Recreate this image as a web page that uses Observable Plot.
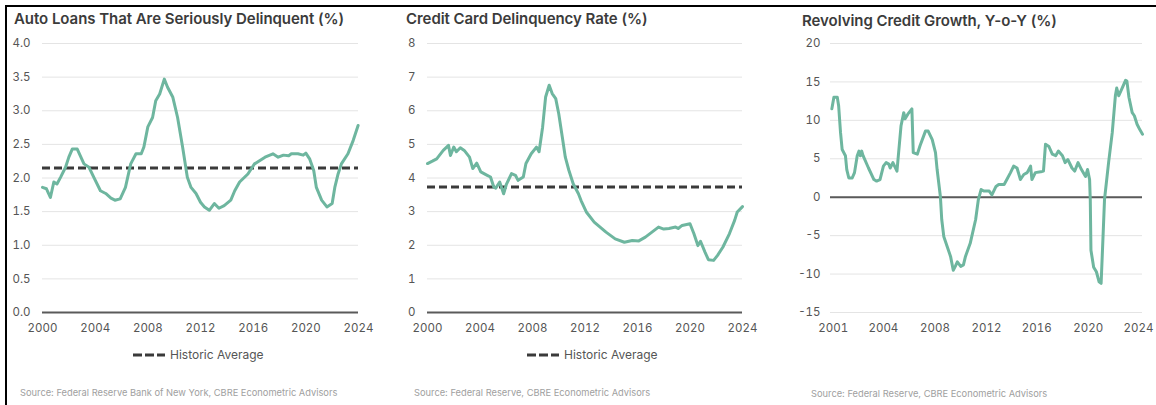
<!DOCTYPE html>
<html>
<head>
<meta charset="utf-8">
<script src="https://cdn.jsdelivr.net/npm/d3@7"></script>
<script src="https://cdn.jsdelivr.net/npm/@observablehq/plot@0.6"></script>
<style>
  html, body { margin: 0; padding: 0; background: #fff; }
  body { width: 1156px; height: 405px; position: relative; overflow: hidden; font-family: Inter, "Open Sans", sans-serif; }
  .frame { position: absolute; left: 5px; top: 5px; width: 1160px; height: 410px; border-top: 2px solid #000; border-left: 2px solid #000; }
  .title { position: absolute; font-size: 15px; font-weight: 600; color: #3b3b3b; line-height: 18px; white-space: nowrap; letter-spacing: -0.05px; }
  .chart { position: absolute; }
  .legend { position: absolute; font-size: 12px; color: #555; line-height: 14px; white-space: nowrap; display: flex; align-items: center; }
  .legend svg { margin-right: 5px; }
  .source { position: absolute; font-size: 9.3px; color: #a0a0a0; line-height: 11px; white-space: nowrap; }
</style>
</head>
<body>
<div class="frame"></div>
<div class="title" style="left:14px; top:10px;">Auto Loans That Are Seriously Delinquent (%)</div>
<div class="title" style="left:406px; top:10px;">Credit Card Delinquency Rate (%)</div>
<div class="title" style="left:802px; top:12px;">Revolving Credit Growth, Y-o-Y (%)</div>
<div id="c1" class="chart" style="left:0px; top:30px;"></div>
<div id="c2" class="chart" style="left:390px; top:30px;"></div>
<div id="c3" class="chart" style="left:780px; top:30px;"></div>
<div class="legend" style="left:133px; top:348px;"><svg width="32" height="6"><line x1="0" y1="3" x2="32" y2="3" stroke="#3a3a3a" stroke-width="3" stroke-dasharray="9,3"/></svg>Historic Average</div>
<div class="legend" style="left:527px; top:348px;"><svg width="32" height="6"><line x1="0" y1="3" x2="32" y2="3" stroke="#3a3a3a" stroke-width="3" stroke-dasharray="9,3"/></svg>Historic Average</div>
<div class="source" style="left:20px; top:387px;">Source: Federal Reserve Bank of New York, CBRE Econometric Advisors</div>
<div class="source" style="left:414px; top:387px;">Source: Federal Reserve, CBRE Econometric Advisors</div>
<div class="source" style="left:811px; top:388px;">Source: Federal Reserve, CBRE Econometric Advisors</div>
<script>
// ---------- Auto loans seriously delinquent (%) ----------
const autoYears = [2000.0, 2000.3, 2000.6, 2000.86, 2001.1, 2001.37, 2001.75, 2002.0, 2002.26, 2002.64, 2003.15, 2003.53, 2003.9, 2004.4, 2004.8, 2005.2, 2005.5, 2005.9, 2006.3, 2006.7, 2007.1, 2007.5, 2007.7, 2008.0, 2008.36, 2008.6, 2008.9, 2009.25, 2009.5, 2009.9, 2010.26, 2010.64, 2011.0, 2011.28, 2011.66, 2012.0, 2012.3, 2012.67, 2013.05, 2013.4, 2013.8, 2014.3, 2014.6, 2014.97, 2015.6, 2016.1, 2016.9, 2017.5, 2017.9, 2018.3, 2018.7, 2018.9, 2019.4, 2019.8, 2020.0, 2020.3, 2020.6, 2020.8, 2021.2, 2021.6, 2022.0, 2022.2, 2022.45, 2022.7, 2023.2, 2023.6, 2023.97];
const autoValues = [1.86, 1.84, 1.71, 1.94, 1.91, 2.01, 2.16, 2.31, 2.43, 2.43, 2.21, 2.16, 2.01, 1.81, 1.77, 1.70, 1.67, 1.69, 1.86, 2.21, 2.36, 2.36, 2.46, 2.76, 2.90, 3.15, 3.25, 3.47, 3.35, 3.20, 2.90, 2.46, 2.01, 1.86, 1.77, 1.64, 1.57, 1.52, 1.62, 1.55, 1.59, 1.67, 1.81, 1.94, 2.06, 2.21, 2.31, 2.36, 2.31, 2.34, 2.33, 2.36, 2.36, 2.34, 2.37, 2.28, 2.11, 1.86, 1.67, 1.57, 1.62, 1.86, 2.06, 2.21, 2.36, 2.56, 2.78];
const autoAverage = 2.15;
const autoXTicks = [2000, 2004, 2008, 2012, 2016, 2020, 2024];
const autoYTicks = [0, 0.5, 1.0, 1.5, 2.0, 2.5, 3.0, 3.5, 4.0];

// ---------- Credit card delinquency rate (%) ----------
const ccYears = [2000.0, 2000.37, 2000.7, 2001.2, 2001.6, 2001.75, 2002.0, 2002.2, 2002.5, 2002.8, 2003.2, 2003.45, 2003.75, 2004.06, 2004.55, 2004.8, 2005.05, 2005.2, 2005.5, 2005.8, 2006.0, 2006.4, 2006.7, 2006.9, 2007.3, 2007.5, 2007.9, 2008.3, 2008.5, 2008.77, 2009.0, 2009.27, 2009.5, 2009.77, 2010.0, 2010.27, 2010.5, 2010.77, 2011.1, 2011.5, 2011.7, 2012.1, 2012.7, 2013.6, 2014.3, 2015.0, 2015.6, 2016.1, 2016.6, 2017.1, 2017.6, 2018.0, 2018.4, 2018.9, 2019.1, 2019.4, 2020.0, 2020.3, 2020.6, 2020.8, 2021.15, 2021.4, 2021.8, 2022.1, 2022.5, 2023.0, 2023.4, 2023.6, 2024.0];
const ccValues = [4.43, 4.50, 4.57, 4.82, 4.97, 4.67, 4.92, 4.78, 4.90, 4.82, 4.62, 4.28, 4.44, 4.18, 4.08, 4.03, 3.73, 3.70, 3.88, 3.53, 3.80, 4.13, 4.08, 3.93, 4.03, 4.43, 4.72, 4.92, 4.78, 5.51, 6.41, 6.76, 6.51, 6.36, 5.91, 5.22, 4.62, 4.23, 3.83, 3.53, 3.33, 2.99, 2.69, 2.39, 2.19, 2.09, 2.14, 2.13, 2.24, 2.39, 2.54, 2.48, 2.50, 2.54, 2.50, 2.59, 2.64, 2.34, 1.99, 2.12, 1.79, 1.57, 1.55, 1.70, 1.94, 2.34, 2.74, 2.99, 3.15];
const ccAverage = 3.73;
const ccXTicks = [2000, 2004, 2008, 2012, 2016, 2020, 2024];
const ccYTicks = [0, 1, 2, 3, 4, 5, 6, 7, 8];

// ---------- Revolving credit growth, Y-o-Y (%) ----------
const revYears = [2001.1, 2001.25, 2001.5, 2001.6, 2001.74, 2001.86, 2002.1, 2002.2, 2002.35, 2002.6, 2002.77, 2002.97, 2003.1, 2003.2, 2003.3, 2003.4, 2003.8, 2004.2, 2004.4, 2004.65, 2004.9, 2005.1, 2005.3, 2005.4, 2005.6, 2005.9, 2006.2, 2006.4, 2006.5, 2006.7, 2007.0, 2007.1, 2007.4, 2007.6, 2008.0, 2008.2, 2008.5, 2008.74, 2008.86, 2009.1, 2009.2, 2009.35, 2009.6, 2009.85, 2010.05, 2010.2, 2010.35, 2010.6, 2010.8, 2010.95, 2011.3, 2011.7, 2011.9, 2012.1, 2012.3, 2012.7, 2012.9, 2013.2, 2013.4, 2013.8, 2014.0, 2014.27, 2014.5, 2014.75, 2015.0, 2015.25, 2015.5, 2015.75, 2015.85, 2016.1, 2016.5, 2016.7, 2016.85, 2017.1, 2017.35, 2017.6, 2017.8, 2018.1, 2018.3, 2018.5, 2018.8, 2019.0, 2019.25, 2019.5, 2019.8, 2019.95, 2020.1, 2020.15, 2020.2, 2020.4, 2020.6, 2020.8, 2020.95, 2021.1, 2021.2, 2021.5, 2021.77, 2022.0, 2022.1, 2022.25, 2022.5, 2022.75, 2022.85, 2023.0, 2023.24, 2023.4, 2023.6, 2023.8, 2024.0];
const revValues = [11.5, 13.0, 13.0, 11.9, 8.4, 6.2, 5.4, 3.6, 2.5, 2.5, 3.2, 5.4, 6.0, 5.4, 6.0, 5.4, 3.8, 2.3, 2.1, 2.3, 4.05, 4.5, 4.3, 3.8, 4.5, 3.4, 9.3, 11.0, 10.2, 10.8, 11.5, 5.8, 5.6, 6.7, 8.6, 8.6, 7.5, 5.8, 3.6, 0.1, -2.9, -5.1, -6.4, -7.7, -9.5, -9.0, -8.4, -9.0, -8.8, -7.7, -6.0, -2.9, -0.3, 1.0, 0.8, 0.8, 0.3, 1.4, 1.65, 1.65, 2.3, 3.2, 4.05, 3.8, 2.3, 2.96, 3.2, 4.05, 2.3, 3.2, 3.3, 3.4, 6.9, 6.6, 5.6, 5.4, 6.0, 5.4, 4.5, 4.9, 3.8, 3.4, 4.5, 3.6, 2.7, 3.6, 2.3, -0.3, -6.9, -9.1, -9.7, -11.0, -11.2, -4.7, -0.3, 4.5, 8.4, 13.2, 14.2, 13.2, 14.2, 15.2, 15.1, 13.0, 11.0, 10.6, 9.5, 8.8, 8.2];
const revXTickPositions = [2001.2, 2004.9, 2008.7, 2012.5, 2016.2, 2020.0, 2023.7];
const revXTickLabels = ["2001", "2004", "2008", "2012", "2016", "2020", "2024"];
const revYTicks = [-15, -10, -5, 0, 5, 10, 15, 20];

const lineColor = "#6eb69f";
const gridColor = "#e4e4e4";
const baseColor = "#5a5a5a";
const avgColor = "#3a3a3a";

const zip = (xs, ys) => xs.map((x, i) => ({x, y: ys[i]}));

function panel({data, width, marginLeft, marginRight, xDomain, xTicks, xFormat, yDomain, yTicks, yFormat, yPad, average}) {
  const marks = [
    Plot.gridY(yTicks, {stroke: gridColor, strokeOpacity: 1, strokeWidth: 1}),
    Plot.ruleY([0], {stroke: baseColor, strokeWidth: 2}),
  ];
  if (average != null) {
    marks.push(Plot.ruleY([average], {stroke: avgColor, strokeWidth: 3, strokeDasharray: "8,4"}));
  }
  marks.push(
    Plot.line(data, {x: "x", y: "y", stroke: lineColor, strokeWidth: 3}),
    Plot.axisX(xTicks, {tickSize: 0, tickPadding: 11, tickFormat: xFormat, fill: "#555", label: null}),
    Plot.axisY(yTicks, {tickSize: 0, tickPadding: yPad, tickFormat: yFormat, fill: "#555", label: null})
  );
  return Plot.plot({
    width, height: 310,
    marginTop: 13, marginBottom: 28, marginLeft, marginRight,
    style: {fontFamily: "Inter, 'Open Sans', sans-serif", fontSize: "11.5px", color: "#555", background: "transparent", overflow: "visible"},
    x: {type: "linear", domain: xDomain, label: null},
    y: {type: "linear", domain: yDomain, label: null},
    marks
  });
}

document.getElementById("c1").appendChild(panel({
  data: zip(autoYears, autoValues), width: 375, marginLeft: 42, marginRight: 17,
  xDomain: [2000, 2024], xTicks: autoXTicks, xFormat: d => String(d),
  yDomain: [0, 4], yTicks: autoYTicks, yFormat: d3.format(".1f"), yPad: 12, average: autoAverage
}));

document.getElementById("c2").appendChild(panel({
  data: zip(ccYears, ccValues), width: 380, marginLeft: 37, marginRight: 28,
  xDomain: [2000, 2024], xTicks: ccXTicks, xFormat: d => String(d),
  yDomain: [0, 8], yTicks: ccYTicks, yFormat: d => String(d), yPad: 12, average: ccAverage
}));

document.getElementById("c3").appendChild(panel({
  data: zip(revYears, revValues), width: 376, marginLeft: 50, marginRight: 14,
  xDomain: [2001, 2024], xTicks: revXTickPositions,
  xFormat: d => revXTickLabels[revXTickPositions.indexOf(d)],
  yDomain: [-15, 20], yTicks: revYTicks, yFormat: d => String(d), yPad: 10, average: null
}));
</script>
</body>
</html>
